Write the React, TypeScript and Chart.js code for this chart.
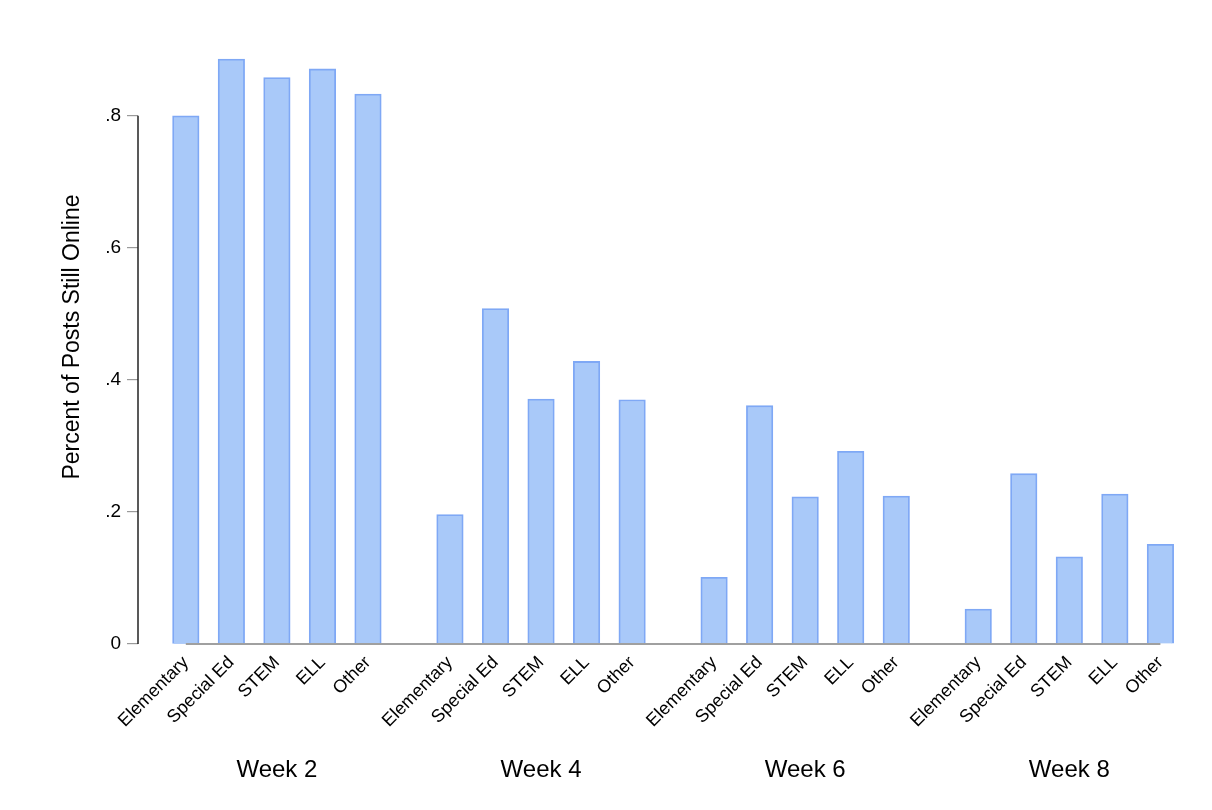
import React, { useEffect, useRef } from 'react';
import { Chart, registerables } from 'chart.js';

Chart.register(...registerables);

const weeks = ['Week 2', 'Week 4', 'Week 6', 'Week 8'];
const categories = ['Elementary', 'Special Ed', 'STEM', 'ELL', 'Other'];
const week2 = [0.8, 0.886, 0.858, 0.871, 0.833];
const week4 = [0.196, 0.508, 0.371, 0.428, 0.37];
const week6 = [0.101, 0.361, 0.223, 0.292, 0.224];
const week8 = [0.053, 0.258, 0.132, 0.227, 0.151];
const yTicks = [0, 0.2, 0.4, 0.6, 0.8];
const yTickLabels = ['0', '.2', '.4', '.6', '.8'];
const yTitle = 'Percent of Posts Still Online';

const series = [week2, week4, week6, week8];
const GROUP_STEP = 5.8;
const FONT = '"Liberation Sans Narrow", "Liberation Sans", Arial, sans-serif';

const positions: number[] = [];
const tickLabels: string[] = [];
weeks.forEach((_, g) => {
  categories.forEach((c, i) => {
    positions.push(g * GROUP_STEP + i);
    tickLabels.push(c);
  });
});
const points = series.flatMap((vals, g) => vals.map((v, i) => ({ x: g * GROUP_STEP + i, y: v })));

const decorPlugin = {
  id: 'decor',
  afterDatasetsDraw(chart: any) {
    const { ctx, scales } = chart;
    const x = scales.x;
    const y = scales.y;
    ctx.save();
    // x axis line spanning data range
    ctx.strokeStyle = '#a0a0a0';
    ctx.lineWidth = 2;
    ctx.beginPath();
    const yb = y.getPixelForValue(0);
    ctx.moveTo(x.getPixelForValue(positions[0]), yb);
    ctx.lineTo(x.getPixelForValue(positions[positions.length - 1]), yb);
    ctx.stroke();
    // y axis line spanning tick range
    ctx.strokeStyle = '#222';
    ctx.lineWidth = 1.5;
    ctx.beginPath();
    ctx.moveTo(y.right, y.getPixelForValue(yTicks[0]));
    ctx.lineTo(y.right, y.getPixelForValue(yTicks[yTicks.length - 1]));
    ctx.stroke();
    // group labels
    ctx.fillStyle = '#000';
    ctx.font = `24px ${FONT}`;
    ctx.textAlign = 'center';
    ctx.textBaseline = 'middle';
    weeks.forEach((w, g) => {
      const cx = x.getPixelForValue(g * GROUP_STEP + (categories.length - 1) / 2);
      ctx.fillText(w, cx, 770);
    });
    ctx.restore();
  },
};

export default function App() {
  const ref = useRef<HTMLCanvasElement>(null);
  useEffect(() => {
    if (!ref.current) return;
    const chart = new Chart(ref.current, {
      type: 'bar',
      data: {
        datasets: [
          {
            data: points as any,
            backgroundColor: '#a9c9f9',
            borderColor: '#7fa8f5',
            borderWidth: 1.8,
            barThickness: 26.5,
            clip: false as any,
          },
        ],
      },
      options: {
        responsive: false,
        animation: false,
        layout: { padding: { top: 30, right: 22, bottom: 0, left: 0 } },
        plugins: { legend: { display: false }, tooltip: { enabled: false } },
        scales: {
          x: {
            type: 'linear',
            offset: false,
            min: -1.05,
            max: 22.05,
            grid: { display: false, offset: false },
            border: { display: false },
            afterBuildTicks: (axis: any) => {
              axis.ticks = positions.map((v) => ({ value: v }));
            },
            afterFit: (s: any) => {
              s.height = 166;
            },
            ticks: {
              autoSkip: false,
              maxRotation: 45,
              minRotation: 45,
              padding: 0,
              color: '#000',
              font: { size: 18, family: FONT },
              callback: (_v: any, i: number) => tickLabels[i],
            },
          },
          y: {
            min: 0,
            max: 0.93,
            afterBuildTicks: (axis: any) => {
              axis.ticks = yTicks.map((v) => ({ value: v }));
            },
            afterFit: (s: any) => {
              s.width = 138;
            },
            grid: { drawOnChartArea: false, drawTicks: true, tickLength: 11, color: '#9a9a9a', lineWidth: 1.2 },
            border: { display: false },
            ticks: {
              padding: 6,
              color: '#000',
              font: { size: 19, family: FONT },
              callback: (_v: any, i: number) => yTickLabels[i],
            },
            title: {
              display: true,
              text: yTitle,
              color: '#000',
              font: { size: 23, family: FONT },
              padding: { top: 59, bottom: 0 },
            },
          },
        },
      },
      plugins: [decorPlugin],
    });
    return () => chart.destroy();
  }, []);
  return (
    <div style={{ position: 'fixed', left: 0, top: 0, width: 1212, height: 810, background: '#fff' }}>
      <canvas ref={ref} width={1212} height={810} style={{ width: 1212, height: 810, display: 'block' }} />
    </div>
  );
}
